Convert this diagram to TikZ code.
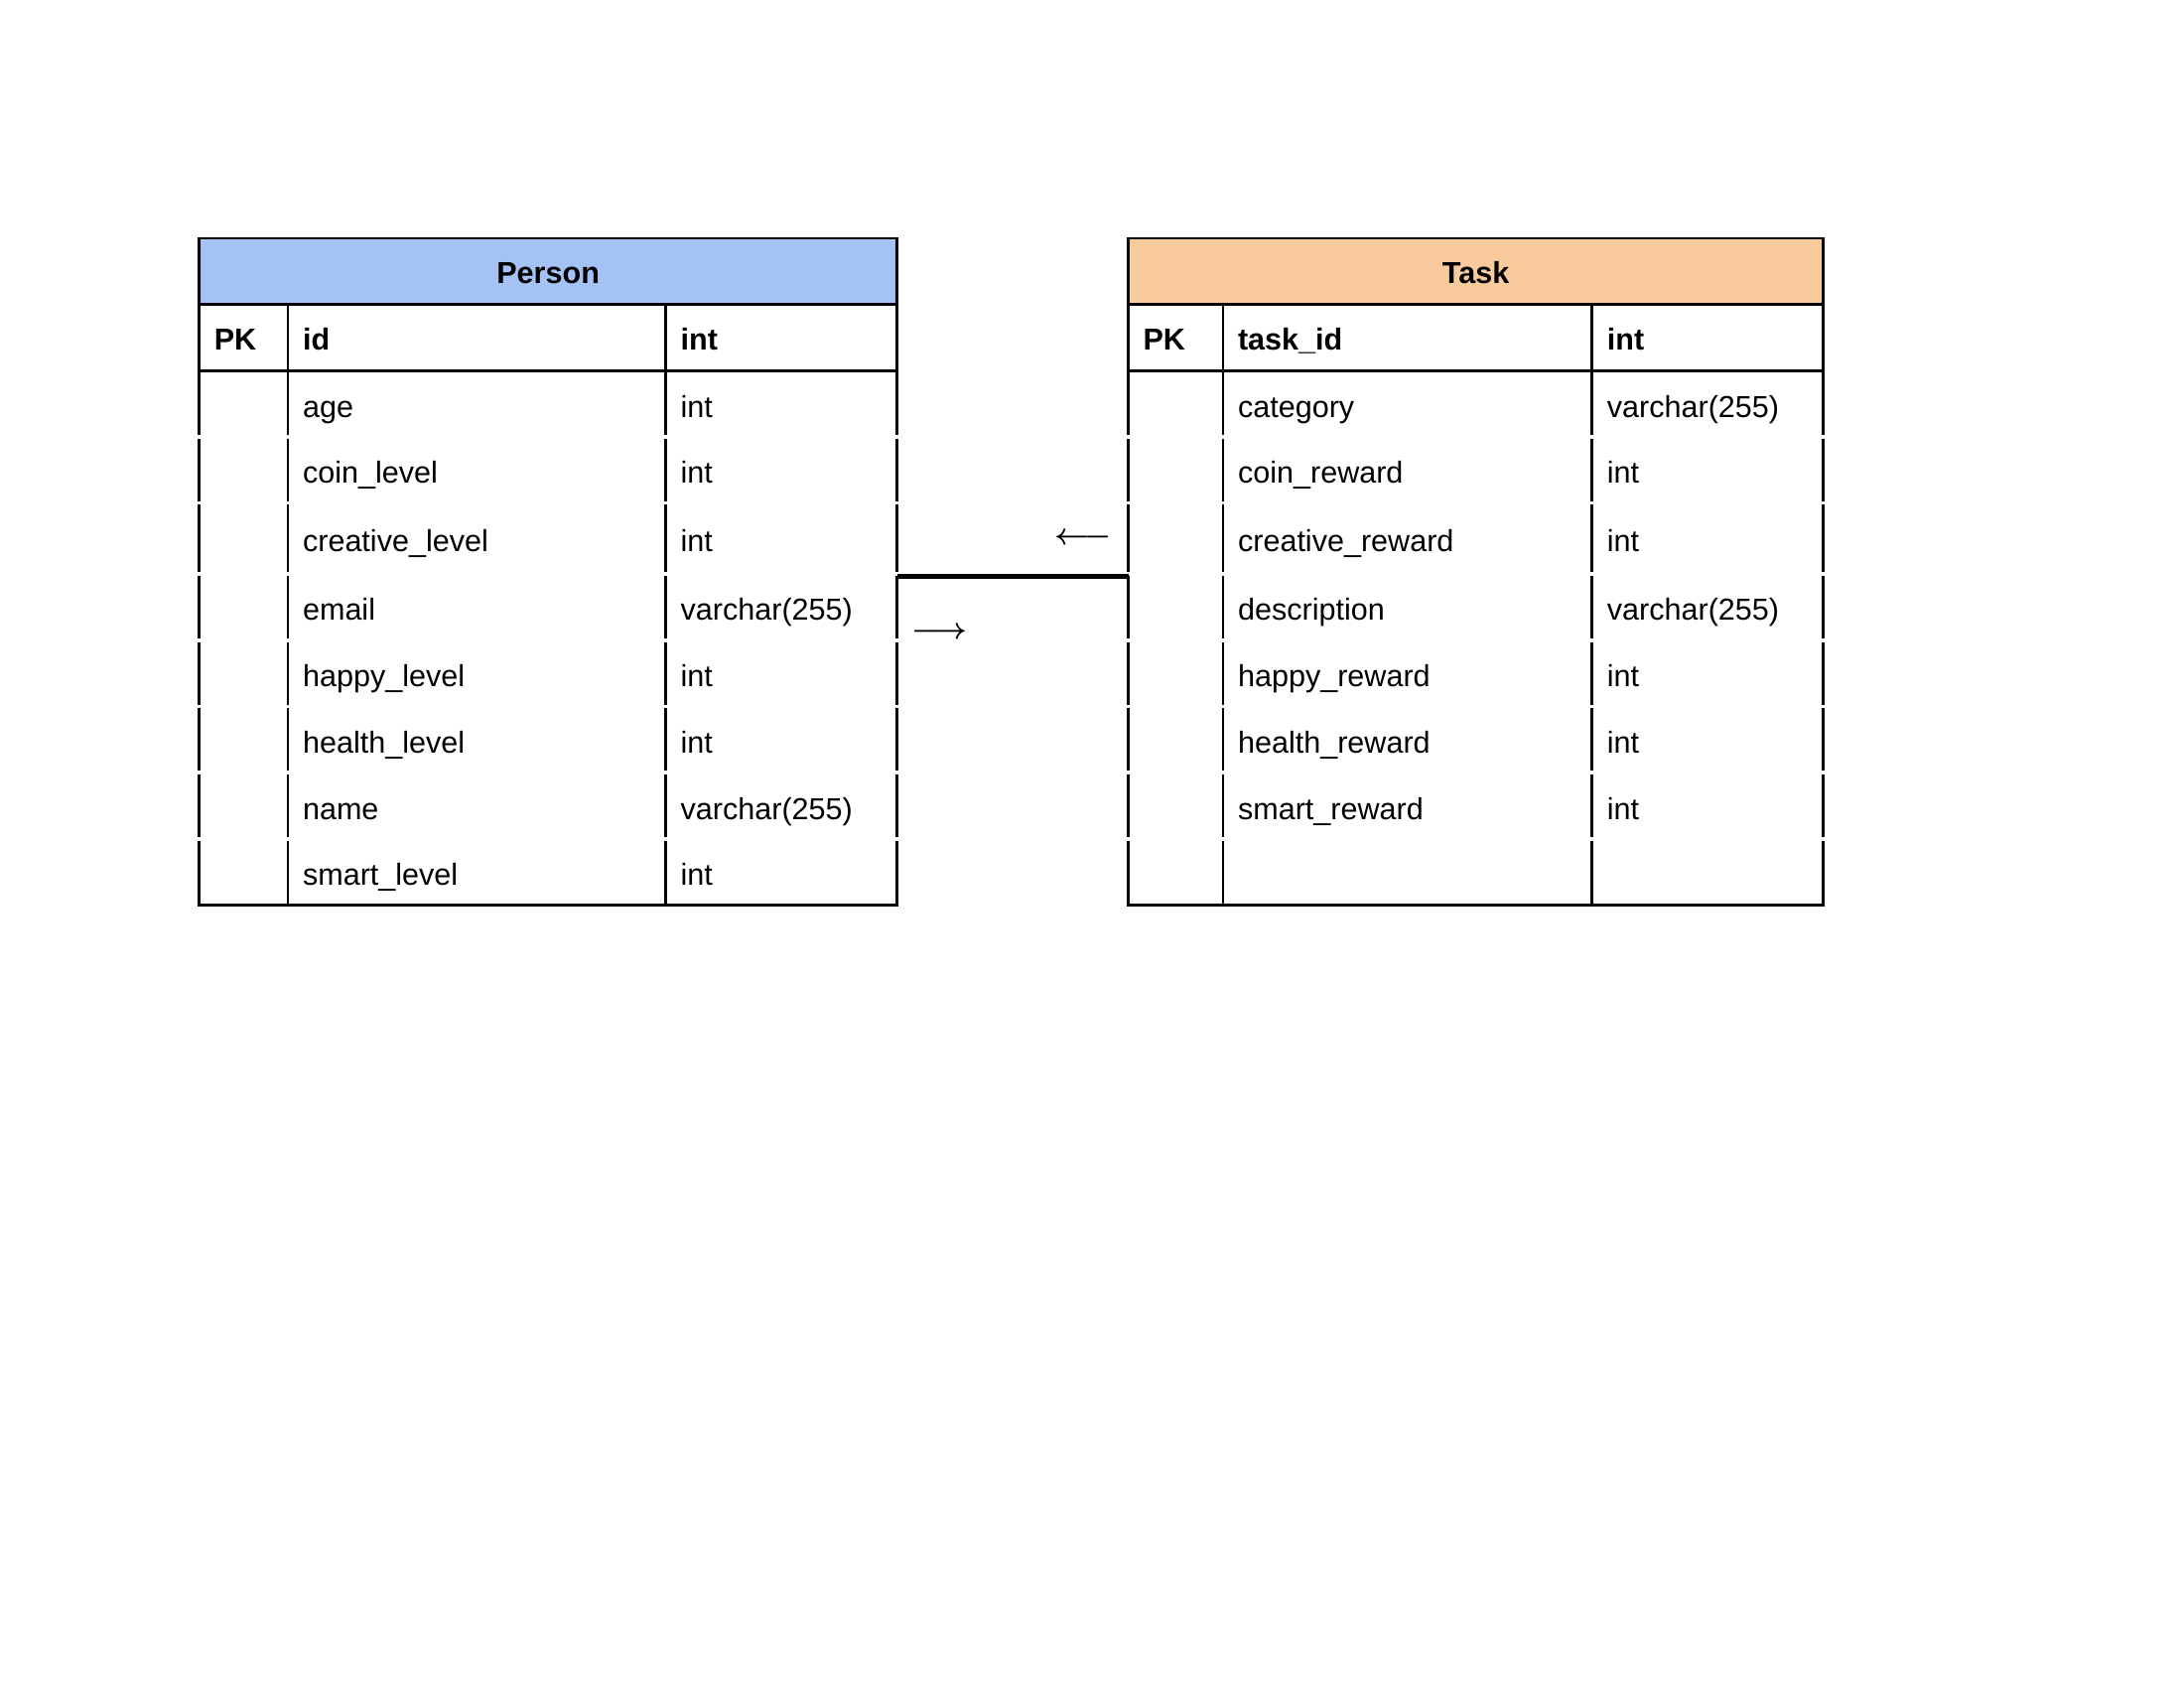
\documentclass[tikz,border=0pt]{standalone}
\usepackage{fontspec}
\setmainfont{Liberation Sans}
\usetikzlibrary{calc}
\definecolor{personblue}{HTML}{A4C2F4}
\definecolor{taskorange}{HTML}{F9CB9C}

% Row boundaries (bottom of key row ... bottom of last row)
\def\rowbounds{{373.3,440,506.7,578,645,711.7,778.3,845,911.7}}

% #1 name, #2 left x, #3 first column x, #4 second column x, #5 right x,
% #6 header fill, #7 title, #8 key field, #9 field/type rows
\newcommand{\erdtable}[9]{%
  \node[inner sep=0pt, outer sep=0pt, minimum width={(#5-#2)*0.36pt},
        minimum height={(911.7-240)*0.36pt}, anchor=north west] (#1) at (#2,240) {};
  \fill[#6] (#2,240) rectangle (#5,306.7);
  \draw[rule, line cap=rect] (#2,240) -- (#5,240) (#2,306.7) -- (#5,306.7)
        (#2,373.3) -- (#5,373.3) (#2,911.7) -- (#5,911.7);
  \draw[rule] (#2,240) -- (#2,373.3) (#5,240) -- (#5,373.3)
        (#3,306.7) -- (#3,373.3) (#4,306.7) -- (#4,373.3);
  \node[titletext] (#1-title) at ({(#2+#5)/2},285.7) {#7};
  \node[keycell] (#1-pk) at (#2+14.5,353) {PK};
  \node[keycell] (#1-key) at (#3+14.5,353) {#8};
  \node[keycell] (#1-keytype) at (#4+14.5,353) {int};
  % field rows: vertical rules broken at each row boundary
  \foreach \i in {1,...,8}{%
    \pgfmathsetmacro\ya{\rowbounds[\i-1]}%
    \pgfmathsetmacro\yb{\rowbounds[\i]}%
    \pgfmathsetmacro\yt{\i==1 ? \ya : \ya+1.8}%
    \pgfmathsetmacro\yu{\i==8 ? \yb : \yb-1.8}%
    \draw[rule] (#2,\yt) -- (#2,\yu) (#3,\yt) -- (#3,\yu)
                (#4,\yt) -- (#4,\yu) (#5,\yt) -- (#5,\yu);
  }
  \foreach \n/\t [count=\i] in {#9}{%
    \pgfmathsetmacro\ya{\rowbounds[\i-1]}%
    \pgfmathsetmacro\yb{\rowbounds[\i]}%
    \pgfmathsetmacro\yc{(\ya+\yb)/2+13.5}%
    \node[cell] (#1-f\i) at (#3+14.5,\yc) {\n};
    \node[cell] (#1-t\i) at (#4+14.5,\yc) {\t};
  }
}

\begin{document}
\begin{tikzpicture}[x=0.36pt, y=-0.36pt,
  cell/.style={anchor=base west, inner sep=0pt, font=\fontsize{11}{13}\selectfont},
  keycell/.style={cell, font=\fontsize{11}{13}\selectfont\bfseries},
  titletext/.style={anchor=base, inner sep=0pt, font=\fontsize{11}{13}\selectfont\bfseries},
  rule/.style={line width=1pt, black},
  relline/.style={line width=1.8pt, black},
  dirmark/.style={inner sep=0pt, font=\fontsize{11}{13}\selectfont\boldmath}]

\fill[white] (0,0) rectangle (2200,1700);
\useasboundingbox (0,0) rectangle (2200,1700);

\erdtable{person}{200.7}{290}{670.6}{903.6}{personblue}{Person}{id}%
  {age/int, coin\_level/int, creative\_level/int, email/varchar(255),
   happy\_level/int, health\_level/int, name/varchar(255), smart\_level/int}

\erdtable{task}{1136.5}{1232}{1603.8}{1836.8}{taskorange}{Task}{task\_id}%
  {category/varchar(255), coin\_reward/int, creative\_reward/int,
   description/varchar(255), happy\_reward/int, health\_reward/int,
   smart\_reward/int}

% relationship between the two tables
\draw[relline] ([yshift=-1.8pt]person.east) -- ([yshift=-1.8pt]task.west);
\node[dirmark] (toperson) at (1091,542.5) {$\longleftarrow$};
\node[dirmark] (totask) at (946.5,637.3) {$\longrightarrow$};

\end{tikzpicture}
\end{document}
